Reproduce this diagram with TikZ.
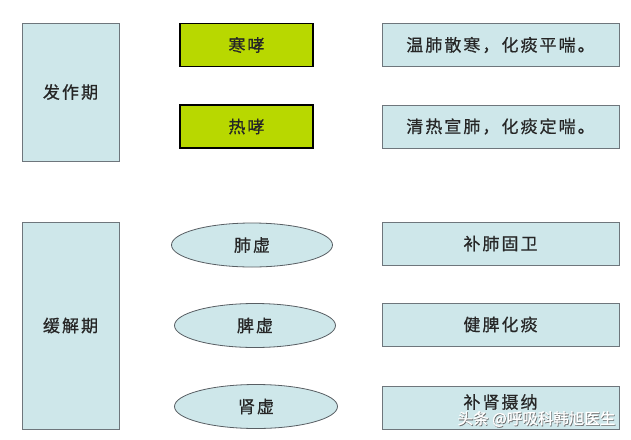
\documentclass[tikz,border=0pt]{standalone}
\usepackage{fontspec}
\usepackage{xcolor}
\usepackage{tikz}
\usetikzlibrary{shapes}
\newfontfamily\cjk[LetterSpace=12,FakeBold=0.6]{Noto Sans CJK SC}
\newfontfamily\cjkmark[FakeBold=1.2]{Noto Sans CJK SC}
\definecolor{paleblue}{HTML}{CEE7EA}
\definecolor{limegreen}{HTML}{B8D800}
\definecolor{edgegray}{HTML}{6E767C}
\tikzset{every node/.style={font=\cjk\fontsize{17}{20}\selectfont,text=black!85},
 stagebox/.style={draw=edgegray,fill=paleblue,rectangle,minimum width=97pt,inner sep=0pt},
 syndbox/.style={draw=black,line width=1.2pt,fill=limegreen,rectangle,minimum width=133pt,minimum height=43pt,inner sep=0pt},
 treatbox/.style={draw=edgegray,line width=0.8pt,fill=paleblue,rectangle,minimum width=237pt,minimum height=43pt,inner sep=0pt},
 organ/.style={draw=edgegray!80!black,line width=0.8pt,fill=paleblue,ellipse,minimum width=161pt,minimum height=44pt,inner sep=0pt},
 }

\begin{document}
\begin{tikzpicture}[x=1pt,y=-1pt]
        \useasboundingbox[fill=white] (0,0) rectangle (631,439);
        \node[stagebox,minimum height=138pt] (fazuo) at (70.5,92) {发作期};
        \node[stagebox,minimum height=207pt] (huanjie) at (70.5,325.5) {缓解期};
        \node[syndbox] (hanxiao) at (246.5,45) {寒哮};
        \node[syndbox] (rexiao) at (246.5,126.5) {热哮};
        \node[treatbox] (wenfei) at (500.5,45) {温肺散寒，化痰平喘。};
        \node[treatbox] (qingre) at (500.5,126.5) {清热宣肺，化痰定喘。};
        \node[organ] (feixu) at (252,245) {肺虚};
        \node[organ] (pixu) at (255,325.5) {脾虚};
        \node[organ,minimum width=163pt] (shenxu) at (256,406.5) {肾虚};
        \node[treatbox] (bufei) at (500.5,243.5) {补肺固卫};
        \node[treatbox] (jianpi) at (500.5,324.5) {健脾化痰};
        \node[treatbox] (bushen) at (500.5,407.5) {};
        \node (bushentxt) at (500.5,402) {补肾摄纳};
        \node[text=black!60,font=\cjkmark\fontsize{15.5}{18}\selectfont] at (537.2,419.8) {头条 @呼吸科韩旭医生};
        \node[text=white,font=\cjkmark\fontsize{15.5}{18}\selectfont] (mark) at (536.5,419) {头条 @呼吸科韩旭医生};
    \end{tikzpicture}
\end{document}
